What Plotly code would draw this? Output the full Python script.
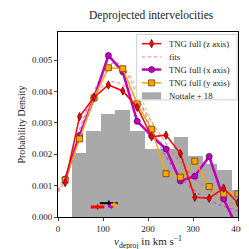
import numpy as np
import plotly.graph_objects as go

# ---- data ----
v_pts = [16, 48, 80, 112, 144, 176, 208, 240, 272, 304, 336, 368, 400]
tng_z = [0.00110, 0.00320, 0.00382, 0.00421, 0.00402, 0.00350, 0.00256, 0.00261, 0.00202, 0.00063, 0.00060, 0.00092, 0.00045]
tng_x = [0.00121, 0.00260, 0.00379, 0.00515, 0.00463, 0.00305, 0.00259, 0.00217, 0.00115, 0.00130, 0.00193, 0.00058, -0.00040]
tng_y = [0.00118, 0.00249, 0.00380, 0.00476, 0.00473, 0.00361, 0.00280, 0.00138, 0.00127, 0.00178, 0.00097, 0.00074, 0.00074]

fit_v = [0, 16, 50, 80, 110, 130, 150, 180, 210, 240, 270, 300, 330, 360, 400]
fit_z = [0.00080, 0.00115, 0.00290, 0.00385, 0.00428, 0.00430, 0.00415, 0.00365, 0.00300, 0.00235, 0.00178, 0.00130, 0.00092, 0.00063, 0.00035]
fit_x = [0.00085, 0.00125, 0.00280, 0.00400, 0.00480, 0.00492, 0.00465, 0.00375, 0.00275, 0.00192, 0.00130, 0.00088, 0.00058, 0.00038, 0.00020]
fit_y = [0.00090, 0.00125, 0.00270, 0.00385, 0.00465, 0.00482, 0.00470, 0.00395, 0.00295, 0.00212, 0.00150, 0.00108, 0.00076, 0.00052, 0.00030]

hist_edges = [30.8, 63.1, 95.4, 127.7, 160.0, 192.3, 224.6, 256.9, 289.2, 321.5, 353.8, 386.1, 418.4]
hist_vals = [0.00205, 0.00274, 0.00328, 0.00341, 0.00274, 0.00218, 0.00218, 0.00255, 0.00194, 0.00168, 0.00149, 0.00087]

# mean velocity markers with horizontal errors
mean_labels = ["Nottale", "z", "x", "y"]
mean_v = [113, 88, 118, 125]
mean_err = [20, 15, 7, 7]
mean_y = [0.00044, 0.00032, 0.00035, 0.00039]

legend_labels = ["TNG full (z axis)", "fits", "TNG full (x axis)", "TNG full (y axis)", "Nottale + 18"]

# ---- figure ----
edges = np.array(hist_edges)
centers = (edges[:-1] + edges[1:]) / 2
widths = np.diff(edges)

RED = "#ff0000"
MAG = "#bf00bf"
ORA = "#ffa500"
GRAY = "#a9a9a9"

fig = go.Figure()
fig.add_trace(go.Bar(x=centers, y=hist_vals, width=widths, marker=dict(color=GRAY, line=dict(width=0)),
                     name="Nottale + 18"))

fit_styles = [
    (fit_z, "rgba(255,80,80,0.6)"),
    (fit_x, "rgba(191,0,191,0.45)"),
    (fit_y, "rgba(255,165,0,0.6)"),
]
for fy, col in fit_styles:
    fig.add_trace(go.Scatter(x=fit_v, y=fy, mode="lines",
                             line=dict(color=col, dash="dot", width=1.3, shape="spline"), name="fits"))

series = [
    ("TNG full (x axis)", tng_x, MAG, 2.5, "circle", "#600060"),
    ("TNG full (y axis)", tng_y, ORA, 1.5, "square", "#6a4500"),
    ("TNG full (z axis)", tng_z, RED, 1.5, "diamond-tall", "#700000"),
]
style = {}
for name, yv, col, lw, sym, edge in series:
    style[name] = (col, lw, sym, edge)
    fig.add_trace(go.Scatter(x=v_pts, y=yv, mode="lines+markers", line=dict(color=col, width=lw),
                             marker=dict(symbol=sym, size=6, color=col, line=dict(color=edge, width=0.8)),
                             name=name))

mean_cols = ["#000000", RED, MAG, ORA]
mean_w = [2, 3, 3, 2.5]
for lab, v, e, yv, c, w in zip(mean_labels, mean_v, mean_err, mean_y, mean_cols, mean_w):
    fig.add_trace(go.Scatter(x=[v], y=[yv], mode="markers",
                             marker=dict(symbol="diamond-tall", size=5, color=c),
                             error_x=dict(type="constant", value=e, color=c, thickness=w, width=0),
                             name=lab))

# ---- legend drawn on an overlay axis (fraction coordinates of the plot area) ----
lx0, lx1, ly0, ly1 = 0.437, 0.995, 0.633, 0.986
row_y = [0.937, 0.865, 0.797, 0.725, 0.655]
sx0, sx1, smid, tx = 0.466, 0.573, 0.52, 0.603
fig.add_trace(go.Scatter(x=[lx0, lx1, lx1, lx0, lx0], y=[ly0, ly0, ly1, ly1, ly0], mode="lines",
                         fill="toself", fillcolor="rgba(255,255,255,0.85)", line=dict(color="#d0d0d0", width=1),
                         xaxis="x2", yaxis="y2", hoverinfo="skip"))
for lab, ry in zip(legend_labels, row_y):
    if lab in style:
        col, lw, sym, edge = style[lab]
        fig.add_trace(go.Scatter(x=[sx0, sx1], y=[ry, ry], mode="lines", line=dict(color=col, width=lw),
                                 xaxis="x2", yaxis="y2", hoverinfo="skip"))
        fig.add_trace(go.Scatter(x=[smid], y=[ry], mode="markers",
                                 marker=dict(symbol=sym, size=6, color=col, line=dict(color=edge, width=0.8)),
                                 xaxis="x2", yaxis="y2", hoverinfo="skip"))
    elif lab == "fits":
        fig.add_trace(go.Scatter(x=[sx0, sx1], y=[ry, ry], mode="lines",
                                 line=dict(color="rgba(255,80,80,0.6)", width=1.3, dash="dot"),
                                 xaxis="x2", yaxis="y2", hoverinfo="skip"))
    else:
        fig.add_trace(go.Scatter(x=[sx0, sx1], y=[ry, ry], mode="lines", line=dict(color=GRAY, width=7),
                                 xaxis="x2", yaxis="y2", hoverinfo="skip"))
    fig.add_annotation(x=tx, y=ry, xref="x2", yref="y2", text=lab, showarrow=False, xanchor="left",
                       yanchor="middle", font=dict(family="Liberation Serif", size=8.7, color="#222"))

FONT = "Liberation Serif"
fig.update_layout(
    width=249, height=249,
    margin=dict(l=50, r=13, t=24, b=37),
    paper_bgcolor="white", plot_bgcolor="white",
    font=dict(family=FONT, size=9, color="#222"),
    title=dict(text="Deprojected intervelocities", x=0.575, xanchor="center", y=0.955, yanchor="bottom",
               font=dict(family=FONT, size=11.5, color="#222")),
    barmode="overlay",
    bargap=0,
    showlegend=False,
    xaxis2=dict(overlaying="x", range=[0, 1], visible=False),
    yaxis2=dict(overlaying="y", range=[0, 1], visible=False),
)
fig.update_layout(xaxis=dict(range=[0, 400], tickvals=[0, 100, 200, 300, 400], ticks="outside", ticklen=3,
                             showline=True, linecolor="black", linewidth=1, mirror=True, showgrid=False, zeroline=False,
                             title=dict(text="<i>v</i><sub>deproj</sub> in km s<sup>−1</sup>",
                                        font=dict(family=FONT, size=11), standoff=4)),
                  yaxis=dict(range=[0, 0.0059], tickvals=[0, 0.001, 0.002, 0.003, 0.004, 0.005], tickformat=".3f",
                             ticks="outside", ticklen=3,
                             showline=True, linecolor="black", linewidth=1, mirror=True, showgrid=False, zeroline=False,
                             title=dict(text="Probability Density", font=dict(family=FONT, size=10), standoff=4)))

fig.write_html("out.html")
